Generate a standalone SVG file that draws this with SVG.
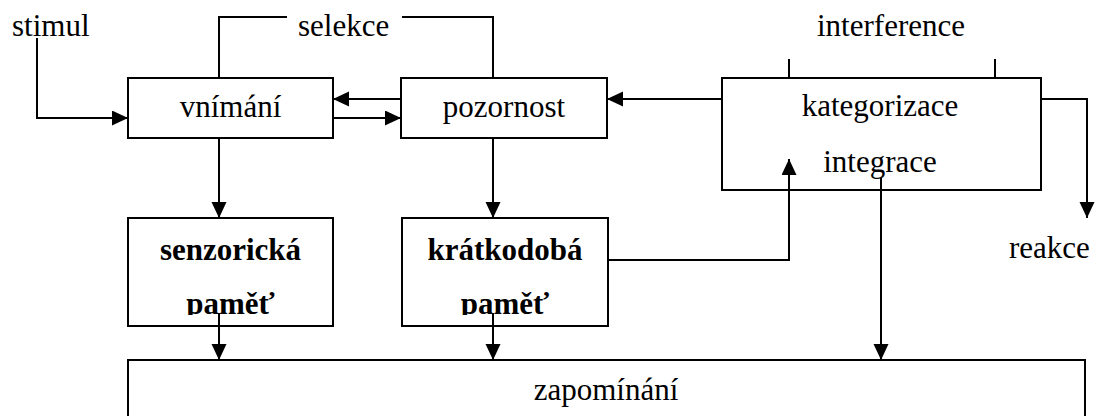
<svg xmlns="http://www.w3.org/2000/svg" width="1096" height="416" viewBox="0 0 1096 416">
<defs>
<style>
.box{fill:#fff;stroke:#000;stroke-width:2}
.t{font-family:'Liberation Serif','DejaVu Serif',serif;font-size:31px;fill:#000}
.b{font-weight:bold}
.m{text-anchor:middle}
.c{fill:none;stroke:#000;stroke-width:2}
</style>
<marker id="ah" markerUnits="userSpaceOnUse" markerWidth="17" markerHeight="16" refX="16" refY="7.5" orient="auto">
<path d="M0,0 L16,7.5 L0,15 z" fill="#000"/>
</marker>
<clipPath id="clipS"><rect x="128" y="218" width="205" height="97"/></clipPath>
<clipPath id="clipK"><rect x="402" y="218" width="206" height="97"/></clipPath>
</defs>
<rect width="1096" height="416" fill="#fff"/>
<g id="n-zapominani">
<rect class="box" x="128" y="360" width="957" height="80"/>
<text class="t m" x="606" y="400">zapomínání</text>
</g>
<g id="n-vnimani">
<rect class="box" x="128" y="78" width="205" height="60"/>
<text class="t m" x="230.5" y="117">vnímání</text>
</g>
<g id="n-pozornost">
<rect class="box" x="401" y="78" width="206" height="60"/>
<text class="t m" x="504" y="117">pozornost</text>
</g>
<g id="n-kategorizace">
<rect class="box" x="722" y="78" width="319" height="112"/>
<text class="t m" x="880" y="116">kategorizace</text>
<text class="t m" x="880" y="172">integrace</text>
</g>
<g id="n-senzoricka">
<rect class="box" x="128" y="218" width="205" height="108"/>
<text class="t b m" x="230.5" y="260">senzorická</text>
<text class="t b m" x="230.5" y="314" clip-path="url(#clipS)">paměť</text>
</g>
<g id="n-kratkodoba">
<rect class="box" x="402" y="218" width="206" height="108"/>
<text class="t b m" x="505" y="260">krátkodobá</text>
<text class="t b m" x="505" y="314" clip-path="url(#clipK)">paměť</text>
</g>
<g id="labels">
<text class="t" x="12" y="36">stimul</text>
<text class="t" x="298" y="36">selekce</text>
<text class="t m" x="891" y="36">interference</text>
<text class="t" x="1009" y="258">reakce</text>
</g>
<g id="connectors">
<path class="c" d="M37,38 V118 H128" marker-end="url(#ah)"/>
<path class="c" d="M219,78 V17 H287"/>
<path class="c" d="M402,17 H493 V78"/>
<path class="c" d="M401,99 H333" marker-end="url(#ah)"/>
<path class="c" d="M333,118 H401" marker-end="url(#ah)"/>
<path class="c" d="M722,99 H607" marker-end="url(#ah)"/>
<path class="c" d="M789,59 V78"/>
<path class="c" d="M995,59 V78"/>
<path class="c" d="M1041,99 H1087 V218" marker-end="url(#ah)"/>
<path class="c" d="M219,138 V218" marker-end="url(#ah)"/>
<path class="c" d="M493,138 V218" marker-end="url(#ah)"/>
<path class="c" d="M219,313 V360" marker-end="url(#ah)"/>
<path class="c" d="M493,313 V360" marker-end="url(#ah)"/>
<path class="c" d="M608,260 H789 V159" marker-end="url(#ah)"/>
<path class="c" d="M881,178 V360" marker-end="url(#ah)"/>
</g>
</svg>
